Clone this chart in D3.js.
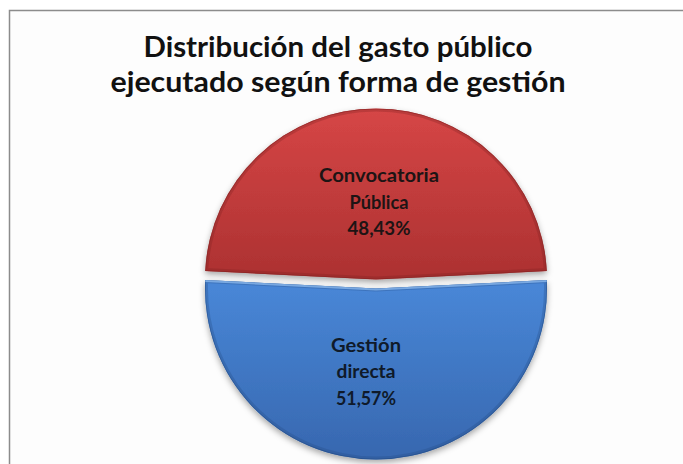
<!DOCTYPE html>
<html><head><meta charset="utf-8">
<script src="https://cdn.jsdelivr.net/npm/d3@7"></script>
<style>body{margin:0;background:#fff} svg{display:block}</style>
</head><body><svg id="c" width="683" height="464"></svg>
<script>
// ---- data ----
const categories = ["Convocatoria Pública", "Gestión directa"];
const labelLines = [["Convocatoria", "Pública"], ["Gestión", "directa"]];
const values = [48.43, 51.57];
const valueLabels = ["48,43%", "51,57%"];
const titleLines = ["Distribución del gasto público", "ejecutado según forma de gestión"];

// ---- styles ----
const W = 683, H = 464;
const cx = 376, cy = 284, R = 171, explode = 4.5;
const topColors = ["#D64646", "#4886D6"];
const botColors = ["#AC3131", "#3767AF"];
const rimColors = ["#7E2020", "#244C85"];
const labelDx = [3, -10];
const labelR = [0.45, 0.49];
const labelW = [[120, 59, 63], [70, 59, 60]];

const svg = d3.select("#c");
svg.append("rect").attr("x", 9).attr("y", 10).attr("width", W).attr("height", H)
  .attr("fill", "#fdfdfd");
svg.append("path").attr("d", `M9.5,${H} L9.5,10.5 L${W},10.5`)
  .attr("fill", "none").attr("stroke", "#8c8c8c").attr("stroke-width", 1.5);

const defs = svg.append("defs");
const f = defs.append("filter").attr("id", "sh").attr("x", "-20%").attr("y", "-20%")
  .attr("width", "140%").attr("height", "140%");
f.append("feDropShadow").attr("dx", 0).attr("dy", 3).attr("stdDeviation", 3)
  .attr("flood-color", "#000").attr("flood-opacity", 0.35);

const total = d3.sum(values);
const start = -Math.PI * values[0] / total;
const pie = d3.pie().sort(null).startAngle(start).endAngle(start + 2 * Math.PI);
const arcs = pie(values);
const arc = d3.arc().innerRadius(0).outerRadius(R);

arcs.forEach((a, i) => {
  const g = defs.append("linearGradient").attr("id", "g" + i)
    .attr("gradientUnits", "userSpaceOnUse")
    .attr("x1", 0).attr("x2", 0).attr("y1", -R).attr("y2", R);
  if (i === 0) {
    g.append("stop").attr("offset", 0).attr("stop-color", topColors[i]);
    g.append("stop").attr("offset", 0.5).attr("stop-color", botColors[i]);
  } else {
    g.append("stop").attr("offset", 0.5).attr("stop-color", topColors[i]);
    g.append("stop").attr("offset", 1).attr("stop-color", botColors[i]);
  }
});

const gPie = svg.append("g");
arcs.forEach((a, i) => {
  const mid = (a.startAngle + a.endAngle) / 2;
  const ox = Math.sin(mid) * explode, oy = -Math.cos(mid) * explode;
  const g = gPie.append("g").attr("transform", `translate(${cx + ox},${cy + oy})`);
  defs.append("clipPath").attr("id", "cp" + i).append("path").attr("d", arc(a));
  g.append("path").attr("d", arc(a)).attr("fill", `url(#g${i})`).attr("filter", "url(#sh)");
  // inner rim bevel
  g.append("path").attr("d", arc(a)).attr("fill", "none")
    .attr("stroke", rimColors[i]).attr("stroke-width", 6).attr("stroke-opacity", 0.3)
    .attr("clip-path", `url(#cp${i})`);
  g.append("path").attr("d", arc(a)).attr("fill", "none")
    .attr("stroke", rimColors[i]).attr("stroke-width", 1.5).attr("stroke-opacity", 0.6)
    .attr("clip-path", `url(#cp${i})`);
  if (i === 1) {
    g.append("path")
      .attr("d", `M${Math.sin(a.startAngle) * R},${-Math.cos(a.startAngle) * R} L0,0 L${Math.sin(a.endAngle) * R},${-Math.cos(a.endAngle) * R}`)
      .attr("fill", "none").attr("stroke", "#8fbcf0").attr("stroke-width", 4)
      .attr("stroke-opacity", 0.75).attr("clip-path", `url(#cp${i})`);
  }
  // labels
  const lc = d3.arc().innerRadius(R * labelR[i]).outerRadius(R * labelR[i]).centroid(a);
  const lines = labelLines[i].concat([valueLabels[i]]);
  const t = g.append("text").attr("text-anchor", "middle")
    .attr("font-family", "Lato, 'Open Sans', sans-serif").attr("font-weight", 700)
    .attr("font-size", 18.5).attr("fill", i === 0 ? "#1d1414" : "#0f1a2a");
  lines.forEach((l, k) => {
    t.append("tspan").attr("x", lc[0] + labelDx[i]).attr("y", lc[1] + (k - 1) * 26.5 + 6)
      .attr("textLength", labelW[i][k]).attr("lengthAdjust", "spacingAndGlyphs")
      .text(l);
  });
});

// title
const titleY = [57, 92], titleW = [389, 455];
titleLines.forEach((l, k) => {
  svg.append("text").attr("text-anchor", "middle")
    .attr("font-family", "Lato, 'Open Sans', sans-serif").attr("font-weight", 700)
    .attr("font-size", 28.5).attr("fill", "#111")
    .attr("x", 338).attr("y", titleY[k])
    .attr("textLength", titleW[k]).attr("lengthAdjust", "spacingAndGlyphs").text(l);
});
</script>
</body></html>
